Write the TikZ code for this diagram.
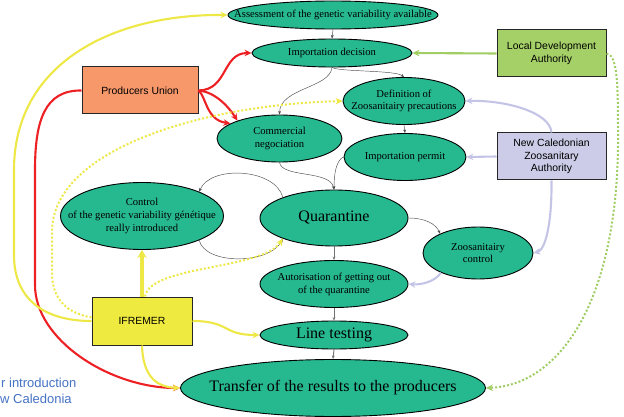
\documentclass[tikz,border=0pt]{standalone}
\usepackage{fontspec}
\setmainfont{Liberation Serif}
\setsansfont{Liberation Sans}
\usetikzlibrary{shapes.geometric,arrows.meta,calc}
\definecolor{ellfill}{RGB}{38,184,143}
\definecolor{pufill}{RGB}{247,152,107}
\definecolor{ldfill}{RGB}{165,208,104}
\definecolor{ncfill}{RGB}{204,204,232}
\definecolor{iffill}{RGB}{239,234,64}
\definecolor{redc}{RGB}{237,32,36}
\definecolor{yelc}{RGB}{238,232,70}
\definecolor{grnc}{RGB}{160,205,100}
\definecolor{lavc}{RGB}{196,196,230}
\definecolor{bluet}{RGB}{68,114,196}
\begin{document}
\begin{tikzpicture}[x=1pt,y=-1pt,
  ell/.style={ellipse,draw=black,line width=0.9pt,fill=ellfill,inner sep=0pt},
  lab/.style={inner sep=0pt,align=center,font=\fontsize{10.6}{12.8}\selectfont},
  biglab/.style={inner sep=0pt,align=center,font=\fontsize{16}{18}\selectfont},
  box/.style={rectangle,draw=black!85,line width=1pt,inner sep=0pt,align=center,
    minimum width=109pt,minimum height=47pt,font=\sffamily\fontsize{10.4}{12.6}\selectfont},
  thinarr/.style={draw=black!70,line width=0.45pt,-{Stealth[length=3.5pt,width=2.8pt]}},
  redarr/.style={draw=redc,line width=2.1pt,-{Stealth[length=7pt,width=6.5pt]}},
  yelarr/.style={draw=yelc,line width=2.1pt,-{Stealth[length=7pt,width=6.5pt]}},
  yeldot/.style={draw=yelc,line width=2pt,dash pattern=on 2pt off 2pt,-{Stealth[length=7pt,width=6.5pt]}},
  grnarr/.style={draw=grnc,line width=2.1pt,-{Stealth[length=7pt,width=6.5pt]}},
  grndot/.style={draw=grnc,line width=2pt,dash pattern=on 2pt off 2pt,-{Stealth[length=7pt,width=6.5pt]}},
  lavarr/.style={draw=lavc,line width=2.1pt,-{Stealth[length=7pt,width=6.5pt]}}
]
\useasboundingbox (0,0) rectangle (624,417);

% ellipses
\node[ell,minimum width=210pt,minimum height=28pt,label={[lab]center:Assessment of the genetic variability available}] (ass) at (333,15) {};
\node[ell,minimum width=160pt,minimum height=28pt,label={[lab]center:Importation decision}] (imp) at (332,53) {};
\node[ell,minimum width=122pt,minimum height=47pt,label={[lab]center:Definition of\\Zoosanitairy precautions}] (def) at (404,101) {};
\node[ell,minimum width=125pt,minimum height=47pt,label={[lab]center:Commercial\\negociation}] (com) at (279.5,138.5) {};
\node[ell,minimum width=122pt,minimum height=47pt,label={[lab]center:Importation permit}] (perm) at (405,157) {};
\node[ell,minimum width=148pt,minimum height=56pt,label={[biglab]center:Quarantine}] (quar) at (334,218) {};
\node[ell,minimum width=163pt,minimum height=67pt,label={[lab]center:Control\\of the genetic variability génétique\\really introduced}] (ctrl) at (142,216) {};
\node[ell,minimum width=110pt,minimum height=52pt,label={[lab]center:Zoosanitairy\\control}] (zc) at (478,253) {};
\node[ell,minimum width=148pt,minimum height=47pt,label={[lab]center:Autorisation of getting out\\of the quarantine}] (aut) at (334,284) {};
\node[ell,minimum width=148pt,minimum height=28pt,label={[biglab]center:Line testing}] (lt) at (334,335) {};
\node[ell,minimum width=305pt,minimum height=57pt,label={[biglab]center:Transfer of the results to the producers}] (tr) at (333,388) {};

% boxes
\node[box,fill=pufill,minimum width=116pt] (pu) at (140,90.5) {Producers Union};
\node[box,fill=ldfill] (ld) at (551.5,53.5) {Local Development\\Authority};
\node[box,fill=ncfill] (nc) at (551.5,156.5) {New Caledonian\\Zoosanitary\\Authority};
\node[box,fill=iffill,minimum width=100pt,minimum height=48pt] (if) at (142,321) {IFREMER};

% side text
\node[anchor=west,inner sep=0pt,text=bluet,font=\sffamily\fontsize{13}{15}\selectfont] (t1) at (1,383) {r introduction};
\node[anchor=west,inner sep=0pt,text=bluet,font=\sffamily\fontsize{13}{15}\selectfont] (t2) at (0,399) {w Caledonia};

% thin black connectors
\draw[thinarr] (ass.south) -- (imp.north);
\draw[thinarr] (imp.south) .. controls (340,72) and (395,70) .. (def.north);
\draw[thinarr] (imp.south) .. controls (330,88) and (280,88) .. (com.north);
\draw[thinarr] (def.south) -- (perm.north);
\draw[thinarr] (com.south) .. controls (282,178) and (330,170) .. (quar.north);
\draw[thinarr] (perm.west) .. controls (336,160) and (334,175) .. (quar.north);
\draw[thinarr] (quar.158) .. controls (275,168) and (210,165) .. (ctrl.23);
\draw[thinarr] (ctrl.-23) .. controls (205,265) and (270,265) .. (quar.202);
\draw[thinarr] (quar.east) .. controls (425,218) and (436,224) .. (zc.153);
\draw[thinarr,line width=0.9pt,draw=black!55] (quar.south) -- (aut.north);
\draw[thinarr,line width=0.9pt,draw=black!55] (aut.south) -- (lt.north);
\draw[thinarr,line width=0.9pt,draw=black!55] (lt.south) -- (tr.north);

% red
\draw[redarr] (pu.east) .. controls (228,90) and (222,53) .. (imp.west);
\draw[redarr] (pu.east) .. controls (215,92) and (228,106) .. (com.157);
\draw[redarr] (pu.east) .. controls (206,96) and (206,120) .. (com.163);
\draw[redarr] (pu.west) .. controls (45,90) and (35,120) .. (35,170) -- (35,285)
  .. controls (35,340) and (110,388) .. (tr.west);

% yellow
\draw[yelarr] (if.west) .. controls (45,321) and (14,300) .. (14,255) -- (14,170)
  .. controls (14,65) and (110,14) .. (ass.west);
\draw[draw=yelc,line width=3.8pt,-{Stealth[length=8pt,width=9.5pt]}] (if.north) -- (ctrl.south);
\draw[yeldot] ($(if.north)+(3,0)$) .. controls (150,265) and (262,270) .. (quar.202);
\draw[yeldot] (if.176) .. controls (62,312) and (52,295) .. (52,272) -- (52,232)
  .. controls (52,150) and (200,105) .. (def.west);
\draw[yelarr] (if.east) .. controls (230,321) and (222,335) .. (lt.west);
\draw[yelarr] (if.south) .. controls (143,375) and (155,387) .. (tr.west);

% green
\draw[grnarr] (ld.west) -- (imp.east);
\draw[grndot] (ld.east) .. controls (617,55) and (618,80) .. (618,130)
  .. controls (620,300) and (560,385) .. (tr.east);

% lavender
\draw[lavarr] (nc.north) .. controls (550,112) and (505,100) .. (def.east);
\draw[lavarr] (nc.west) -- (perm.east);
\draw[lavarr] (nc.south) .. controls (552,225) and (545,250) .. (zc.east);
\draw[lavarr] (zc.208) .. controls (435,282) and (420,285) .. (aut.east);
\end{tikzpicture}
\end{document}
